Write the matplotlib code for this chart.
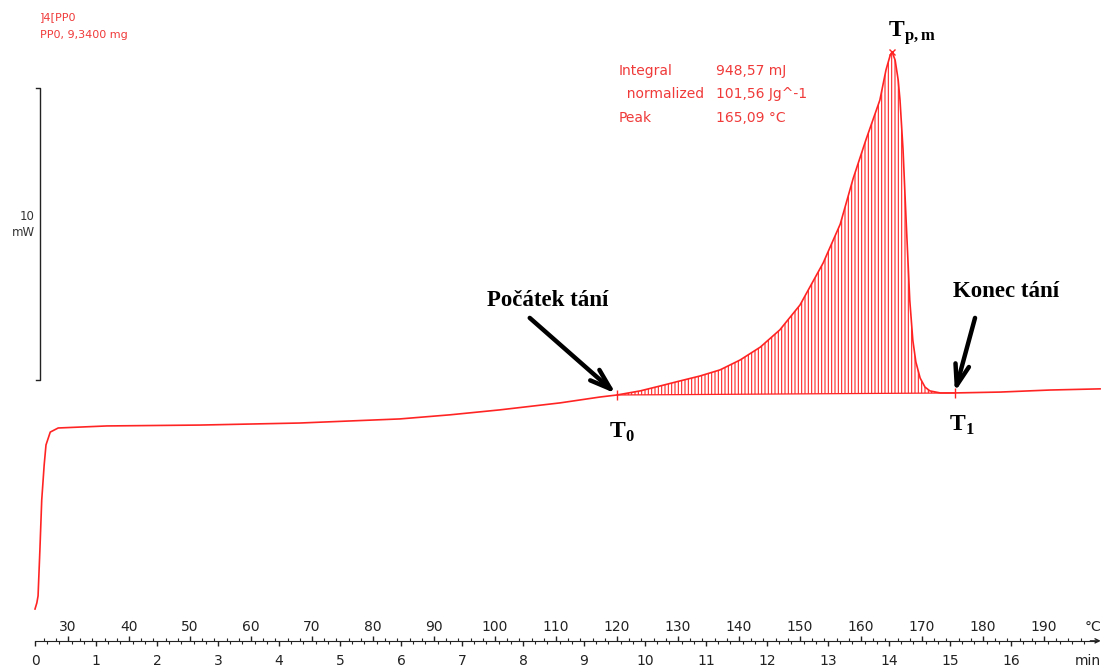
import matplotlib.pyplot as plt
from matplotlib.ticker import FixedLocator

plt.rcParams['font.family'] = ['DejaVu Sans']
plt.rcParams['mathtext.fontset'] = 'custom'
plt.rcParams['mathtext.rm'] = 'Liberation Serif'
plt.rcParams['mathtext.bf'] = 'Liberation Serif:bold'
plt.rcParams['hatch.linewidth'] = 0.8

# DSC curve, heating 10 °C/min from 24.6 °C
T_START = 24.6
RATE = 10.0

time_min = [0.00, 0.03, 0.05, 0.08, 0.11, 0.15, 0.18, 0.25, 0.38, 1.18,
            2.70, 4.34, 5.98, 6.80, 7.62, 8.61, 9.26, 9.54, 9.92, 10.25,
            10.57, 10.90, 11.23, 11.56, 11.89, 12.21, 12.54, 12.92, 13.20, 13.41,
            13.62, 13.85, 13.95, 14.02, 14.05, 14.10, 14.15, 14.18, 14.23, 14.28,
            14.34, 14.39, 14.44, 14.51, 14.59, 14.67, 14.84, 15.08, 15.82, 16.64,
            17.46]
heat_flow = [-7.33, -7.12, -6.88, -5.31, -3.60, -2.40, -1.71, -1.27, -1.13, -1.06,
             -1.03, -0.96, -0.82, -0.68, -0.51, -0.27, -0.07, 0.00, 0.14, 0.31,
             0.48, 0.65, 0.86, 1.20, 1.64, 2.23, 3.08, 4.52, 5.85, 7.40,
             8.73, 10.10, 11.13, 11.64, 11.75, 11.47, 10.79, 10.10, 8.39, 5.99,
             3.25, 1.88, 1.13, 0.58, 0.27, 0.14, 0.07, 0.07, 0.10, 0.17,
             0.21]

t_onset = 9.54     # T0
t_end = 15.08      # T1
t_peak = 14.05     # Tp,m

temp_ticks = list(range(30, 200, 10))
temp_minor = list(range(26, 197, 2))
time_ticks = list(range(0, 17))
time_minor = [k / 5 for k in range(0, 87)]

info_labels = ['Integral', '  normalized', 'Peak']
info_values = ['948,57 mJ', '101,56 Jg^-1', '165,09 °C']

RED = '#ff2424'
TXT_RED = '#f03a3a'
AXIS_Y = -8.42
plt.rcParams['hatch.color'] = RED

fig = plt.figure(figsize=(11.01, 6.69), dpi=100)
ax = fig.add_axes([0, 0, 1, 1])
ax.set_xlim(-0.574, 17.475)
ax.set_ylim(-9.384, 13.527)

# hatched peak area above the straight baseline T0 -> T1
i0 = time_min.index(t_onset)
i1 = time_min.index(t_end)
ip = time_min.index(t_peak)
seg_t = time_min[i0:i1 + 1]
seg_q = heat_flow[i0:i1 + 1]
q0, q1 = heat_flow[i0], heat_flow[i1]
seg_base = [q0 + (tt - t_onset) * (q1 - q0) / (t_end - t_onset) for tt in seg_t]
ax.fill_between(seg_t, seg_q, seg_base, facecolor='none', edgecolor=RED,
                hatch='|||||', linewidth=0)
ax.plot([t_onset, t_end], [q0, q1], color=RED, lw=0.9)

ax.plot(time_min, heat_flow, color=RED, lw=1.2)
ax.plot([t_onset, t_end], [q0, q1], ls='none', marker='|', ms=7, mew=1, color=RED)
ax.plot(t_peak, heat_flow[ip], ls='none', marker='x', ms=4, mew=1, color=RED)

# 10 mW scale bar
ax.plot([0.016, 0.082, 0.082, 0.016], [10.51, 10.51, 0.51, 0.51], color='#222', lw=1)
ax.text(0.0, 5.85, '10\nmW', ha='right', va='center', fontsize=8.5,
        color='#333', linespacing=1.3)

# header
ax.text(0.08, 12.95, ']4[PP0', color=TXT_RED, fontsize=8, va='center')
ax.text(0.08, 12.33, 'PP0, 9,3400 mg', color=TXT_RED, fontsize=8, va='center')

# integration results
for k, (lab, val) in enumerate(zip(info_labels, info_values)):
    y = 11.10 - k * 0.80
    ax.text(9.56, y, lab, color=TXT_RED, fontsize=10, va='center')
    ax.text(11.16, y, val, color=TXT_RED, fontsize=10, va='center')

# annotations
ann_font = dict(family='Liberation Serif', weight='bold', fontsize=16.5, color='black')
arrow = dict(arrowstyle='->,head_length=1.5,head_width=0.5', lw=3.2, color='black',
             shrinkA=0, shrinkB=0)
ax.text(8.41, 3.22, 'Počátek tání', ha='center', va='center', **ann_font)
ax.annotate('', xy=(t_onset - 0.02, q0 + 0.05), xytext=(8.11, 2.64), arrowprops=arrow)
ax.text(15.92, 3.53, 'Konec tání', ha='center', va='center', **ann_font)
ax.annotate('', xy=(t_end, q1 + 0.03), xytext=(15.41, 2.64), arrowprops=arrow)

ax.text(9.62, -1.27, r'$\mathbf{T}_{\mathbf{0}}$', ha='center', va='center', fontsize=17)
ax.text(15.20, -1.03, r'$\mathbf{T}_{\mathbf{1}}$', ha='center', va='center', fontsize=17)
ax.text(14.38, 12.40, r'$\mathbf{T}_{\mathbf{p,m}}$', ha='center', va='center', fontsize=17)

# time axis (bottom)
for s in ['left', 'top', 'right']:
    ax.spines[s].set_visible(False)
ax.spines['bottom'].set_position(('data', AXIS_Y))
ax.spines['bottom'].set_bounds(0, 17.42)
ax.spines['bottom'].set_color('#222')
ax.yaxis.set_visible(False)
ax.set_xticks(time_ticks)
ax.xaxis.set_minor_locator(FixedLocator(time_minor))
ax.tick_params(axis='x', which='major', direction='out', length=3.5, width=1,
               pad=6, labelsize=10, colors='#222')
ax.tick_params(axis='x', which='minor', direction='out', length=2.5, width=0.8,
               colors='#222')
ax.text(17.26, -9.11, 'min', ha='center', va='center', fontsize=10, color='#222')
ax.annotate('', xy=(17.47, AXIS_Y), xytext=(17.3, AXIS_Y),
            arrowprops=dict(arrowstyle='->,head_length=0.3,head_width=0.15',
                            lw=1, color='#222', shrinkA=0, shrinkB=0))

# temperature axis on the same line, labels above
secax = ax.secondary_xaxis(0.0421, functions=(lambda t: T_START + RATE * t,
                                              lambda T: (T - T_START) / RATE))
secax.set_alignment('top')
secax.spines['top'].set_visible(False)
secax.spines['bottom'].set_visible(False)
secax.set_xticks(temp_ticks)
secax.xaxis.set_minor_locator(FixedLocator(temp_minor))
secax.tick_params(axis='x', which='major', direction='out', length=3.5, width=1,
                  pad=1.5, labelsize=10, colors='#222')
secax.tick_params(axis='x', which='minor', direction='out', length=2.5, width=0.8,
                  colors='#222')
ax.text(17.34, -7.95, '°C', ha='center', va='center', fontsize=10, color='#222')

fig.savefig('out.png', dpi=100)
